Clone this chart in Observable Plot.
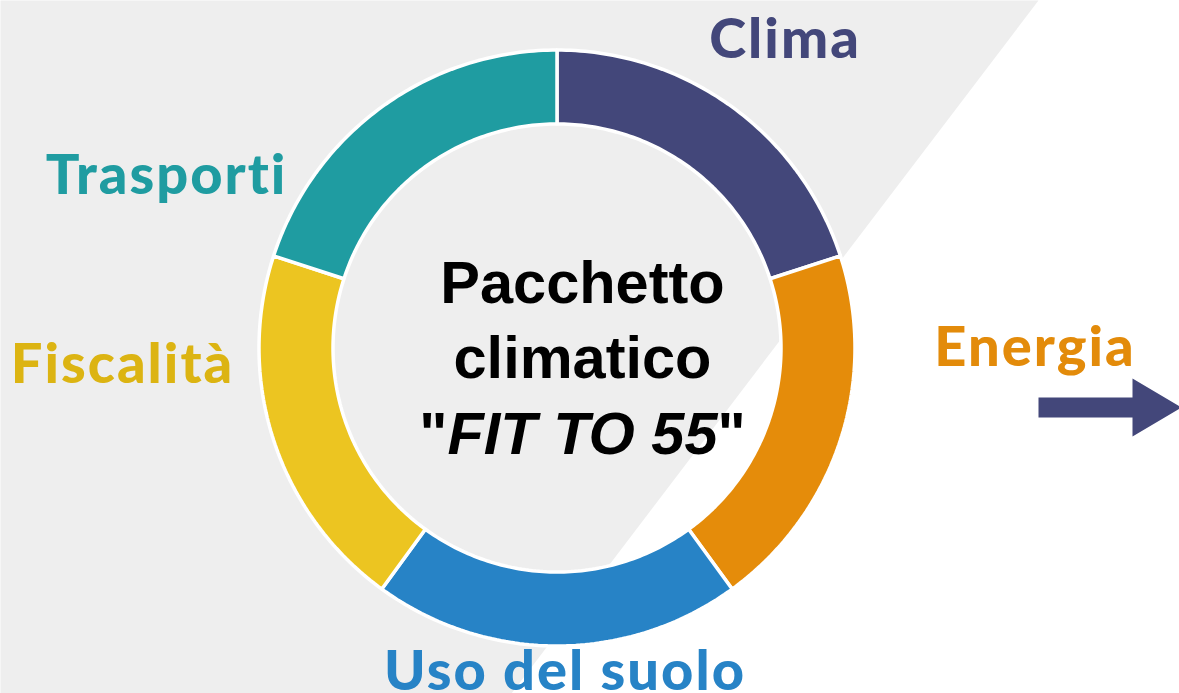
<!DOCTYPE html>
<html>
<head>
<meta charset="utf-8">
<script src="https://cdn.jsdelivr.net/npm/d3@7"></script>
<script src="https://cdn.jsdelivr.net/npm/@observablehq/plot@0.6"></script>
<style>
  html, body { margin: 0; padding: 0; background: #ffffff; }
  #chart { width: 1179px; height: 693px; overflow: hidden; }
  svg { display: block; }
</style>
</head>
<body>
<div id="chart"></div>
<script>
// ---- data ----
const categories = ["Clima", "Energia", "Uso del suolo", "Fiscalità", "Trasporti"];
const shares = [1, 1, 1, 1, 1];
const sliceColors = ["#43477a", "#e58c0a", "#2783c6", "#ecc521", "#1f9ca1"];
const labelColors = ["#43477a", "#e38b0a", "#2783c6", "#dcb412", "#1f9ca1"];
const centerLines = ["Pacchetto", "climatico", "\"FIT TO 55\""];

// ---- layout (not data) ----
const W = 1179, H = 693;
const cx = 556.5, cy = 347.5, rOuter = 298, rInner = 224;
const textCx = 582;
const labelPos = { // [x center, baseline y]
  "Clima": [784.5, 57],
  "Energia": [1034.5, 365],
  "Uso del suolo": [564.5, 689],
  "Fiscalità": [122, 382],
  "Trasporti": [166, 193]
};
const bgPoly = [[0,0],[1038,0],[511,693],[0,693],[0,0]];
const arrowPoly = [[1038,397],[1132,397],[1132,378],[1181,407],[1132,436],[1132,417],[1038,417],[1038,397]];

// build slice polygons from pie angles
const pie = d3.pie().sort(null).value(d => d.v).startAngle(0).endAngle(2 * Math.PI);
const arcs = pie(categories.map((c, i) => ({cat: c, v: shares[i]})));
const slicePts = [];
for (const a of arcs) {
  const n = 80;
  const pts = [];
  for (let k = 0; k <= n; k++) {
    const t = a.startAngle + (a.endAngle - a.startAngle) * k / n;
    pts.push([cx + rOuter * Math.sin(t), cy - rOuter * Math.cos(t)]);
  }
  for (let k = n; k >= 0; k--) {
    const t = a.startAngle + (a.endAngle - a.startAngle) * k / n;
    pts.push([cx + rInner * Math.sin(t), cy - rInner * Math.cos(t)]);
  }
  pts.push(pts[0]);
  for (const p of pts) slicePts.push({cat: a.data.cat, x: p[0], y: p[1]});
}

const labels = categories.map((c, i) => ({cat: c, x: labelPos[c][0], y: labelPos[c][1], color: labelColors[i]}));
const centerData = centerLines.map((t, i) => ({t, i, x: textCx, y: 302 + i * 75.5}));

const plot = Plot.plot({
  width: W, height: H,
  margin: 0,
  x: {domain: [0, W], range: [0, W], axis: null},
  y: {domain: [0, H], range: [0, H], axis: null},
  color: {domain: categories, range: sliceColors},
  style: {background: "transparent", overflow: "visible"},
  marks: [
    Plot.line(bgPoly, {x: d => d[0], y: d => d[1], fill: "#eeeeee", stroke: "none", curve: "linear"}),
    Plot.line(slicePts, {x: "x", y: "y", z: "cat", fill: "cat", stroke: "#ffffff", strokeWidth: 3.5, strokeLinejoin: "miter", curve: "linear"}),
    Plot.line(arrowPoly, {x: d => d[0], y: d => d[1], fill: "#43477a", stroke: "none", curve: "linear"}),
    Plot.text(labels, {x: "x", y: "y", text: "cat", fill: "color", lineAnchor: "bottom", textAnchor: "middle",
      fontSize: 56, fontWeight: 900, fontFamily: "Lato, 'Open Sans', sans-serif", className: "seglabel"}),
    Plot.text(centerData, {x: "x", y: "y", text: "t", fill: "#000000", lineAnchor: "bottom", textAnchor: "middle",
      fontSize: 59.5, fontWeight: 700, fontFamily: "'Liberation Sans', Arial, sans-serif", className: "centertxt"})
  ]
});
document.getElementById("chart").appendChild(plot);

// italicise the inner part of the third line, keep quotes upright
d3.select(plot).selectAll(".centertxt text").each(function(d, i) {
  const el = d3.select(this);
  if (el.text() === centerLines[2]) {
    el.text("");
    el.append("tspan").text("\"");
    el.append("tspan").attr("font-style", "italic").text("FIT TO 55");
    el.append("tspan").text("\"");
  }
});
d3.select(plot).selectAll(".seglabel text").attr("letter-spacing", "2px");
</script>
</body>
</html>
